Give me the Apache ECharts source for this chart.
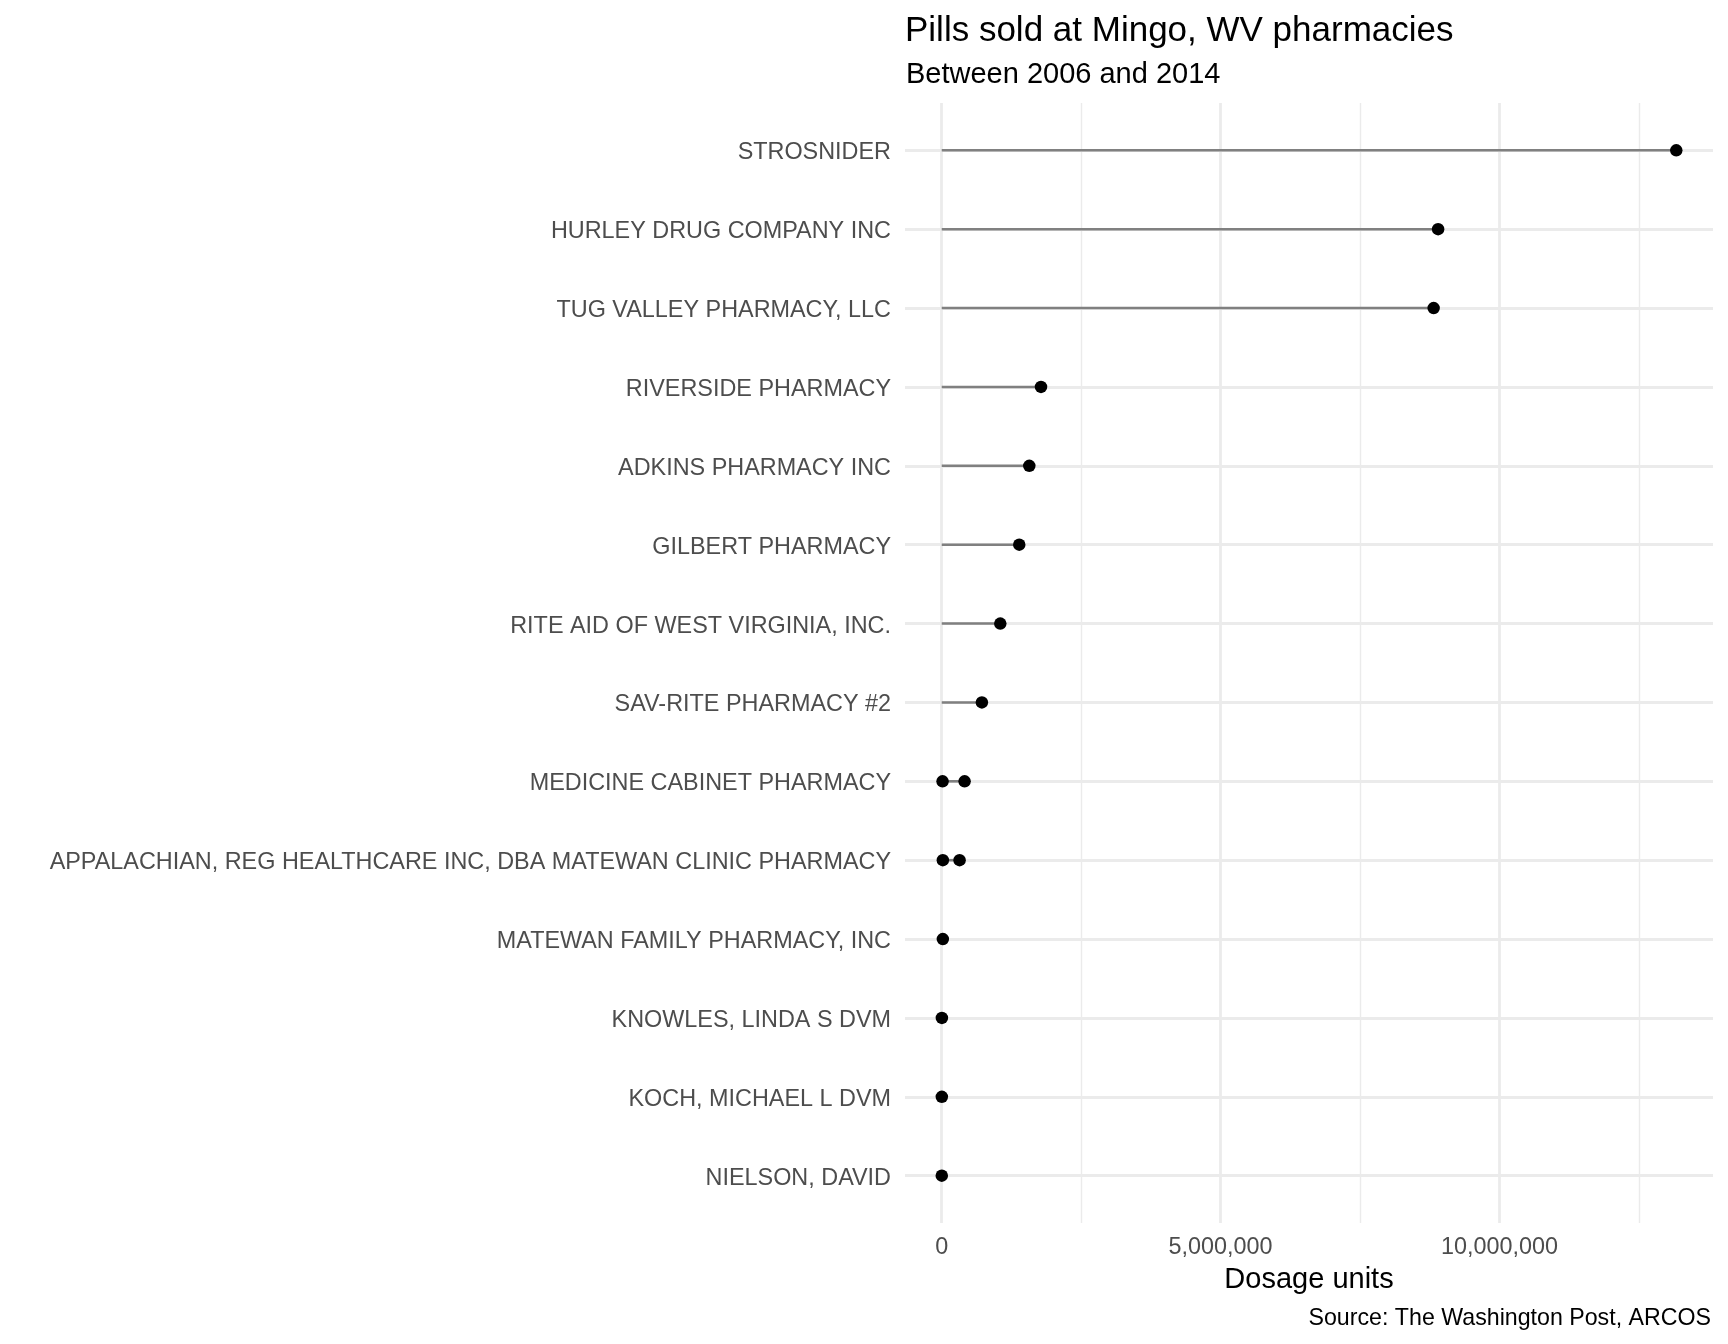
<!DOCTYPE html>
<html>
<head>
<meta charset="utf-8">
<script src="https://cdn.jsdelivr.net/npm/echarts@6/dist/echarts.min.js"></script>
<style>
html,body{margin:0;padding:0;background:#fff;}
#chart{width:1728px;height:1344px;}
</style>
</head>
<body>
<div id="chart"></div>
<script>
// Pharmacies, top to bottom
const categories = [
  "STROSNIDER",
  "HURLEY DRUG COMPANY INC",
  "TUG VALLEY PHARMACY, LLC",
  "RIVERSIDE PHARMACY",
  "ADKINS PHARMACY INC",
  "GILBERT PHARMACY",
  "RITE AID OF WEST VIRGINIA, INC.",
  "SAV-RITE PHARMACY #2",
  "MEDICINE CABINET PHARMACY",
  "APPALACHIAN, REG HEALTHCARE INC, DBA MATEWAN CLINIC PHARMACY",
  "MATEWAN FAMILY PHARMACY, INC",
  "KNOWLES, LINDA S DVM",
  "KOCH, MICHAEL L DVM",
  "NIELSON, DAVID"
];
// Dosage units (main record per pharmacy)
const dosageMain = [13170000, 8900000, 8820000, 1780000, 1570000, 1390000, 1050000, 720000, 410000, 320000, 20000, 3000, 2000, 1000];
// Second record for pharmacies listed twice
const dosageSecond = [null, null, null, null, null, null, null, null, 15000, 20000, null, null, null, null];
// Axis ticks
const majorTicks = [0, 5000000, 10000000];
const minorTicks = [2500000, 7500000, 12500000];

const FONT = "Liberation Sans, Arial, Helvetica, sans-serif";
const all = dosageMain.concat(dosageSecond.filter(v => v != null));
const dMax = Math.max.apply(null, all);
const dMin = Math.min(0, Math.min.apply(null, all));
const span = dMax - dMin;
const xMin = dMin - span * 0.05;
const xMax = dMax + span * 0.05;
const idx = categories.map((c, i) => i);

function segData(vals) {
  const out = [];
  vals.forEach((v, i) => { if (v != null) out.push([v, i]); });
  return out;
}
const segments = segData(dosageMain).concat(segData(dosageSecond));

function fmt(v) { return Math.round(v).toString().replace(/\B(?=(\d{3})+(?!\d))/g, ","); }

const chart = echarts.init(document.getElementById('chart'), null, {renderer: 'canvas'});
chart.setOption({
  backgroundColor: '#ffffff',
  animation: false,
  title: [
    {text: 'Pills sold at Mingo, WV pharmacies', left: 900, top: 9,
     textStyle: {fontFamily: FONT, fontSize: 35, fontWeight: 'normal', color: '#000', lineHeight: 35}},
    {text: 'Between 2006 and 2014', left: 901, top: 55,
     textStyle: {fontFamily: FONT, fontSize: 29, fontWeight: 'normal', color: '#000', lineHeight: 29}},
    {text: 'Source: The Washington Post, ARCOS', right: 12, top: 1302,
     textStyle: {fontFamily: FONT, fontSize: 23.2, fontWeight: 'normal', color: '#000', lineHeight: 24}}
  ],
  grid: {left: 905, right: 15, top: 103, bottom: 121, containLabel: false},
  xAxis: [
    {
      type: 'value', min: xMin, max: xMax, position: 'bottom',
      name: 'Dosage units', nameLocation: 'middle', nameGap: 42,
      nameTextStyle: {fontFamily: FONT, fontSize: 29, color: '#000'},
      axisLine: {show: false},
      axisTick: {show: false, customValues: majorTicks},
      axisLabel: {customValues: majorTicks, formatter: fmt, fontFamily: FONT, fontSize: 23.4, color: '#4d4d4d', margin: 13},
      splitLine: {show: true, lineStyle: {color: '#ebebeb', width: 2.8}}
    },
    {
      type: 'value', min: xMin, max: xMax, position: 'bottom',
      axisLine: {show: false},
      axisTick: {show: false, customValues: minorTicks},
      axisLabel: {show: false, customValues: minorTicks},
      splitLine: {show: true, lineStyle: {color: '#ebebeb', width: 1.4}}
    }
  ],
  yAxis: {
    type: 'value', inverse: true, min: -0.6, max: categories.length - 0.4,
    axisLine: {show: false},
    axisTick: {show: false, customValues: idx},
    axisLabel: {
      customValues: idx,
      formatter: v => '{s| }\n{t|' + categories[Math.round(v)] + '}',
      margin: 14,
      rich: {
        s: {fontSize: 4, lineHeight: 5, height: 5, fontFamily: FONT},
        t: {fontFamily: FONT, fontSize: 23.4, lineHeight: 27, color: '#4d4d4d'}
      }
    },
    splitLine: {show: true, lineStyle: {color: '#ebebeb', width: 2.8}}
  },
  series: [
    {
      type: 'custom', name: 'segments', xAxisIndex: 0, z: 2,
      data: segments,
      renderItem: function (params, api) {
        const p0 = api.coord([0, api.value(1)]);
        const p1 = api.coord([api.value(0), api.value(1)]);
        return {type: 'line', shape: {x1: p0[0], y1: p0[1], x2: p1[0], y2: p1[1]},
                style: {stroke: '#808080', lineWidth: 2.6}};
      }
    },
    {
      type: 'scatter', name: 'main', xAxisIndex: 0, z: 3,
      symbol: 'circle', symbolSize: 12.5,
      itemStyle: {color: '#000', opacity: 1},
      data: segData(dosageMain)
    },
    {
      type: 'scatter', name: 'second', xAxisIndex: 0, z: 3,
      symbol: 'circle', symbolSize: 12.5,
      itemStyle: {color: '#000', opacity: 1},
      data: segData(dosageSecond)
    }
  ]
});
</script>
</body>
</html>
